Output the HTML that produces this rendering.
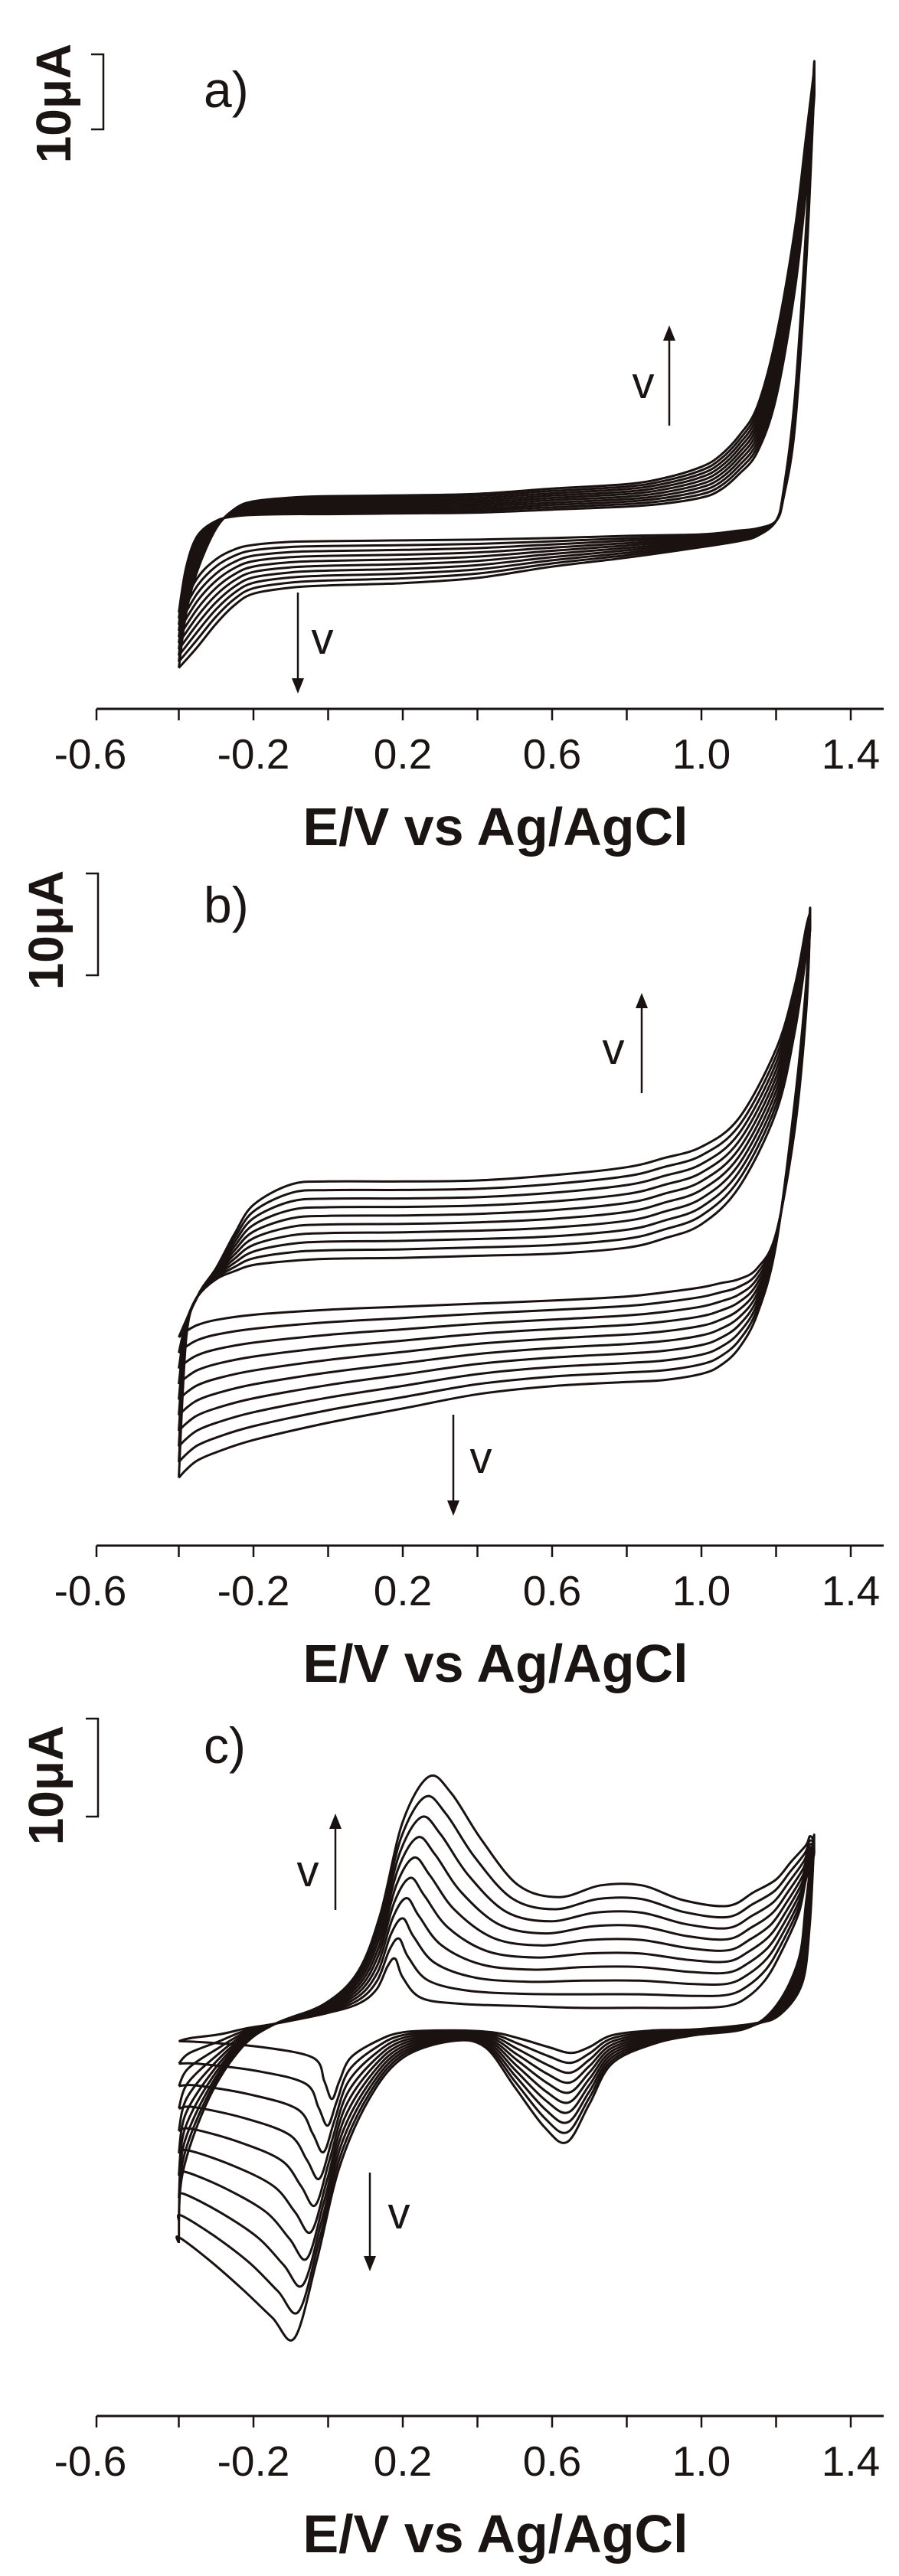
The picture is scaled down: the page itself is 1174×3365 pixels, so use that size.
<!DOCTYPE html>
<html><head><meta charset="utf-8">
<style>
html,body{margin:0;padding:0;background:#fff;}
svg{display:block;}
text{font-family:"Liberation Sans",Arial,sans-serif;fill:#1a1412;}
</style></head>
<body>
<svg id="fig" width="1174" height="3365" viewBox="0 0 1174 3365" xmlns="http://www.w3.org/2000/svg"></svg>
<script>
// ---------- shared data ----------
const scanRates = [10, 20, 30, 40, 50, 60, 70, 80, 90, 100]; // mV/s
const tickValues = [-0.6, -0.4, -0.2, 0, 0.2, 0.4, 0.6, 0.8, 1.0, 1.2, 1.4];
const tickLabels = ["-0.6", "", "-0.2", "", "0.2", "", "0.6", "", "1.0", "", "1.4"];

// ---------- panel a ----------
const aAnodicE = [-0.4,-0.38,-0.35,-0.3,-0.25,-0.2,-0.1,0,0.2,0.4,0.6,0.8,0.9,1.0,1.05,1.1,1.15,1.2,1.25,1.28,1.3];
const aAnodicSlow = [-10.2,-4.1,0,2.0,2.6,2.8,2.9,2.9,3.0,3.1,3.5,3.9,4.3,5.1,6.1,8.2,11.2,18.4,32.7,45.9,57.1];
const aAnodicFast = [-17.6,-10.2,-4.6,1.0,3.6,4.6,5.1,5.3,5.4,5.6,6.3,6.9,7.7,9.2,10.7,13.3,17.3,26.5,40.8,53.1,61.4];
const aCathodicE = [1.3,1.28,1.25,1.22,1.2,1.15,1.1,1.0,0.8,0.6,0.4,0.2,0,-0.1,-0.2,-0.25,-0.3,-0.35,-0.4];
const aCathodicSlow = [57.1,35.7,14.3,5.1,2.0,1.0,0.7,0.2,0,-0.3,-0.5,-0.6,-0.7,-0.8,-1.2,-1.8,-3.1,-5.6,-10.2];
const aCathodicFast = [61.4,40.8,18.4,6.1,2.0,0,-0.7,-1.5,-2.9,-4.1,-5.6,-6.3,-6.6,-6.9,-7.7,-9.2,-11.7,-14.8,-17.6];

// ---------- panel b ----------
const bAnodicE = [-0.4,-0.38,-0.35,-0.3,-0.25,-0.2,-0.1,0,0.2,0.4,0.6,0.8,0.9,1.0,1.1,1.2,1.25,1.28,1.29];
const bAnodicSlow = [-5.7,-4.0,-1.7,0,0.8,1.4,1.8,2.0,2.1,2.3,2.5,3.1,4.0,5.4,9.0,16.4,24.3,31.7,33.9];
const bAnodicFast = [-19.5,-5.7,-1.7,1.1,4.5,7.3,9.3,9.6,9.6,9.7,10.2,11.0,11.9,13.0,15.8,22.6,28.8,34.5,35.9];
const bCathodicE = [1.29,1.28,1.25,1.2,1.15,1.1,1.05,1.0,0.9,0.8,0.6,0.4,0.2,0,-0.2,-0.3,-0.35,-0.38,-0.4];
const bCathodicSlow = [33.9,26.0,14.7,4.5,1.1,0,-0.4,-0.8,-1.3,-1.7,-2.1,-2.4,-2.7,-3.0,-3.5,-4.0,-4.5,-5.1,-5.7];
const bCathodicFast = [35.9,28.8,17.5,3.4,-3.4,-6.8,-8.5,-9.3,-9.9,-10.1,-10.5,-11.3,-12.7,-14.1,-15.8,-17.0,-17.8,-18.7,-19.5];

// ---------- panel c ----------
const cAnodicESlow = [-0.40,-0.37,-0.29,-0.22,-0.14,-0.01,0.08,0.13,0.16,0.18,0.20,0.25,0.36,0.51,0.67,0.83,0.98,1.07,1.12,1.17,1.21,1.26,1.28,1.30];
const cAnodicSlow = [-1.2,-0.9,-0.5,0.1,0.6,1.6,2.6,4.1,6.5,7.2,5.3,3.2,2.6,2.4,2.2,2.2,2.2,2.4,3.2,5.0,7.6,11.8,15.3,17.6];
const cAnodicEFast = [-0.40,-0.39,-0.32,-0.23,-0.14,-0.01,0.08,0.14,0.20,0.27,0.33,0.41,0.51,0.62,0.73,0.84,0.95,1.07,1.14,1.20,1.24,1.28,1.29,1.30];
const cAnodicFast = [-21.8,-14.7,-7.1,-1.8,0.6,2.6,5.9,11.8,21.2,25.8,24.1,19.4,14.7,13.5,14.7,14.7,13.2,12.6,14.0,15.3,17.1,18.8,19.7,19.4];
const cCathodicESlow = [1.30,1.29,1.27,1.21,1.14,0.98,0.87,0.76,0.70,0.65,0.59,0.51,0.44,0.33,0.20,0.13,0.06,0.03,0.01,-0.01,-0.04,-0.18,-0.34,-0.40];
const cCathodicSlow = [17.6,10.6,4.7,1.5,0.6,0,-0.1,-0.6,-1.8,-2.4,-1.8,-0.9,-0.3,-0.1,-0.3,-1.2,-2.9,-5.3,-7.1,-5.3,-2.9,-1.8,-1.3,-1.2];
const cCathodicEFast = [1.30,1.28,1.26,1.20,1.12,0.98,0.87,0.76,0.70,0.64,0.58,0.50,0.42,0.33,0.20,0.11,0.03,-0.03,-0.09,-0.15,-0.23,-0.32,-0.40,-0.40];
const cCathodicFast = [19.4,12.9,7.1,2.4,0.1,-0.6,-1.5,-3.5,-7.6,-11.5,-10.0,-5.9,-1.8,-1.2,-2.9,-7.1,-14.1,-23.5,-31.5,-29.4,-26.5,-23.5,-21.2,-21.8];

const NS = "http://www.w3.org/2000/svg";
const svg = document.getElementById('fig');
function mk(tag, attrs, parent){ const e=document.createElementNS(NS,tag); for(const k in attrs) e.setAttribute(k,attrs[k]); (parent||svg).appendChild(e); return e; }
function smooth(pts){
  let d = "M"+pts[0][0].toFixed(1)+","+pts[0][1].toFixed(1);
  for(let i=0;i<pts.length-1;i++){
    const p0=pts[Math.max(i-1,0)],p1=pts[i],p2=pts[i+1],p3=pts[Math.min(i+2,pts.length-1)];
    const c1=[p1[0]+(p2[0]-p0[0])/6,p1[1]+(p2[1]-p0[1])/6];
    const c2=[p2[0]-(p3[0]-p1[0])/6,p2[1]-(p3[1]-p1[1])/6];
    d+=" C"+c1[0].toFixed(1)+","+c1[1].toFixed(1)+" "+c2[0].toFixed(1)+","+c2[1].toFixed(1)+" "+p2[0].toFixed(1)+","+p2[1].toFixed(1);
  }
  return d;
}
const xScale = E => 331 + (E + 0.2) * 487.5;

function panel(p){
  const g = mk('g',{});
  
  
  const yScale = i => p.y0 - i * p.pxPerUA;
  const vMin = scanRates[0], vMax = scanRates[scanRates.length-1];
  scanRates.forEach((v, k) => {
    const f = (v - vMin) / (vMax - vMin);
    const pts = [];
    p.branches.forEach(br => {
      for(let j=0;j<br.slow.length;j++){
        const E = br.eSlow[j] + f*(br.eFast[j]-br.eSlow[j]);
        const I = br.slow[j] + f*(br.fast[j]-br.slow[j]);
        pts.push([xScale(E), yScale(I)]);
      }
    });
    const path = mk('path',{d:smooth(pts),fill:'none',stroke:'#1a1210','stroke-width':3,'stroke-linejoin':'round'},g);
    
    
  });
  const ax = mk('g',{},g);
  
  
  mk('line',{x1:126,x2:1154,y1:p.axisY,y2:p.axisY,stroke:'#1a1210','stroke-width':3},ax);
  tickValues.forEach((t,i)=>{
    const x = i===0 ? 126 : xScale(t);
    mk('line',{x1:x,x2:x,y1:p.axisY,y2:p.axisY+15,stroke:'#1a1210','stroke-width':2.5},ax);
    if(tickLabels[i]){
      const tx = mk('text',{x:x-(i===0?8:0),y:p.axisY+78,'font-size':55,'text-anchor':'middle'},ax);
      tx.textContent = tickLabels[i];
      
      
    }
  });
  const title = mk('text',{x:647,y:p.axisY+178,'font-size':70,'font-weight':'bold','text-anchor':'middle'},g);
  title.textContent = 'E/V vs Ag/AgCl';
  
  
  const sb = mk('path',{d:`M${p.barX-16},${p.barTop} H${p.barX} V${p.barTop+10*p.pxPerUA} H${p.barX-16}`,fill:'none',stroke:'#1a1210','stroke-width':2.5},g);
  
  
  const sl = mk('text',{x:0,y:0,'font-size':64,'font-weight':'bold','text-anchor':'middle',transform:`translate(${p.labelX},${p.labelY}) rotate(-90)`},g);
  sl.textContent = '10μA';
  
  
  const pl = mk('text',{x:266,y:p.letterY,'font-size':66},g);
  pl.textContent = p.id + ')';
  
  
  p.arrows.forEach(a=>{
    const ag = mk('g',{},g);
    
    
    const tip = a.up ? a.y1 : a.y2, base = a.up ? a.y2 : a.y1;
    const dir = a.up ? 1 : -1;
    mk('line',{x1:a.x,x2:a.x,y1:base,y2:tip+dir*14,stroke:'#1a1210','stroke-width':2.5},ag);
    mk('polygon',{points:`${a.x},${tip} ${a.x-8},${tip+dir*20} ${a.x+8},${tip+dir*20}`,fill:'#1a1210'},ag);
    const vt = mk('text',{x:a.vx,y:a.vy,'font-size':58,'text-anchor':'middle'},ag);
    vt.textContent = 'v';
  });
}

panel({id:'a', y0:700, pxPerUA:9.8, axisY:926, barX:135, barTop:71, labelX:92, labelY:135, letterY:140,
  branches:[{eSlow:aAnodicE,eFast:aAnodicE,slow:aAnodicSlow,fast:aAnodicFast},{eSlow:aCathodicE,eFast:aCathodicE,slow:aCathodicSlow,fast:aCathodicFast}],
  arrows:[{up:true,x:874,y1:425,y2:556,vx:840,vy:520},{up:false,x:389,y1:774,y2:906,vx:421,vy:854}]});
panel({id:'b', y0:1671, pxPerUA:13.3, axisY:2019, barX:128, barTop:1141, labelX:82, labelY:1215, letterY:1205,
  branches:[{eSlow:bAnodicE,eFast:bAnodicE,slow:bAnodicSlow,fast:bAnodicFast},{eSlow:bCathodicE,eFast:bCathodicE,slow:bCathodicSlow,fast:bCathodicFast}],
  arrows:[{up:true,x:838,y1:1297,y2:1428,vx:801,vy:1390},{up:false,x:592,y1:1848,y2:1980,vx:628,vy:1924}]});
panel({id:'c', y0:2651, pxPerUA:12.8, axisY:3156, barX:128, barTop:2245, labelX:82, labelY:2332, letterY:2303,
  branches:[{eSlow:cAnodicESlow,eFast:cAnodicEFast,slow:cAnodicSlow,fast:cAnodicFast},{eSlow:cCathodicESlow,eFast:cCathodicEFast,slow:cCathodicSlow,fast:cCathodicFast}],
  arrows:[{up:true,x:438,y1:2369,y2:2495,vx:402,vy:2464},{up:false,x:483,y1:2838,y2:2967,vx:521,vy:2911}]});
</script>
</body></html>
